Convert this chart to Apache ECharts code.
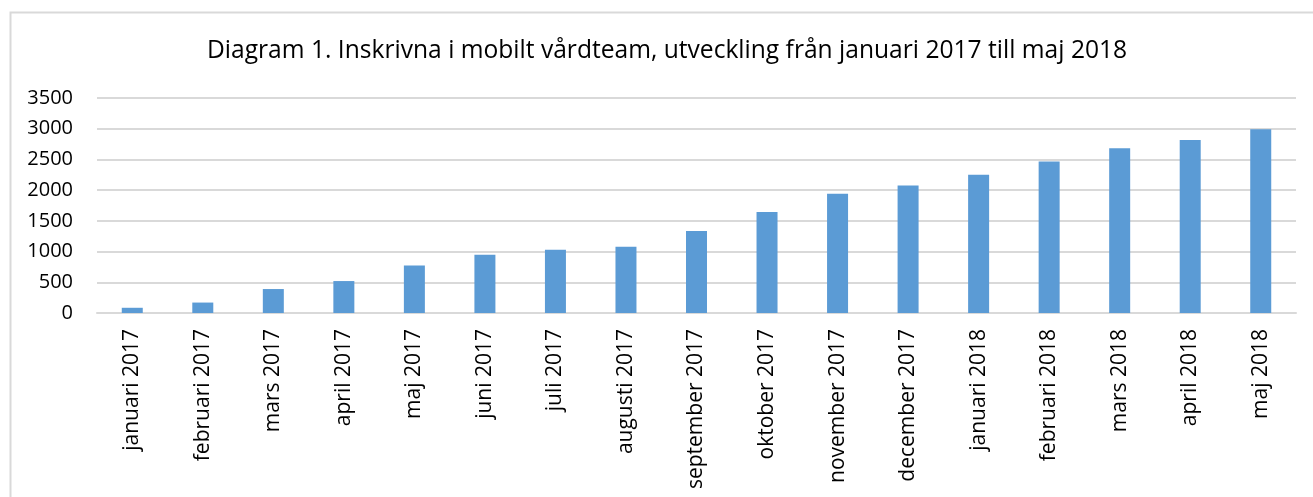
<!DOCTYPE html>
<html>
<head>
<meta charset="utf-8">
<script src="https://cdn.jsdelivr.net/npm/echarts@6/dist/echarts.min.js"></script>
<style>
html,body{margin:0;padding:0;background:#fff;}
#c{width:1313px;height:497px;}
</style>
</head>
<body>
<div id="c"></div>
<script>
const titleText = 'Diagram 1. Inskrivna i mobilt vårdteam, utveckling från januari 2017 till maj 2018';
const categories = ['januari 2017','februari 2017','mars 2017','april 2017','maj 2017','juni 2017','juli 2017','augusti 2017','september 2017','oktober 2017','november 2017','december 2017','januari 2018','februari 2018','mars 2018','april 2018','maj 2018'];
const values = [85, 170, 390, 520, 775, 950, 1030, 1080, 1335, 1645, 1940, 2075, 2250, 2465, 2680, 2815, 2990];
const yTicks = {min: 0, max: 3500, interval: 500};

const chart = echarts.init(document.getElementById('c'), null, {renderer: 'canvas'});
chart.setOption({
  animation: false,
  backgroundColor: '#fff',
  graphic: [{
    type: 'rect', left: 8, top: 10, z: -1,
    shape: {width: 1320, height: 500},
    style: {fill: 'none', stroke: '#d9d9d9', lineWidth: 2}
  }],
  title: {
    text: titleText, left: 202, top: 33,
    textStyle: {fontFamily: 'Open Sans', fontSize: 24.6, fontWeight: 'normal', color: '#000'}
  },
  grid: {left: 97, right: 17, top: 98, bottom: 184, containLabel: false},
  xAxis: {
    type: 'category', data: categories,
    axisLine: {lineStyle: {color: '#d9d9d9', width: 2}},
    axisTick: {show: false},
    axisLabel: {rotate: 90, margin: 16, fontFamily: 'Open Sans', fontSize: 21, color: '#000', interval: 0}
  },
  yAxis: {
    type: 'value', min: yTicks.min, max: yTicks.max, interval: yTicks.interval,
    axisLine: {show: false}, axisTick: {show: false},
    splitLine: {lineStyle: {color: '#d9d9d9', width: 2}},
    axisLabel: {margin: 24, fontFamily: 'Open Sans', fontSize: 20, color: '#000', formatter: v => String(v)}
  },
  series: [{
    type: 'bar', data: values, barWidth: 21,
    itemStyle: {color: '#5b9bd5'}
  }]
});
</script>
</body>
</html>
